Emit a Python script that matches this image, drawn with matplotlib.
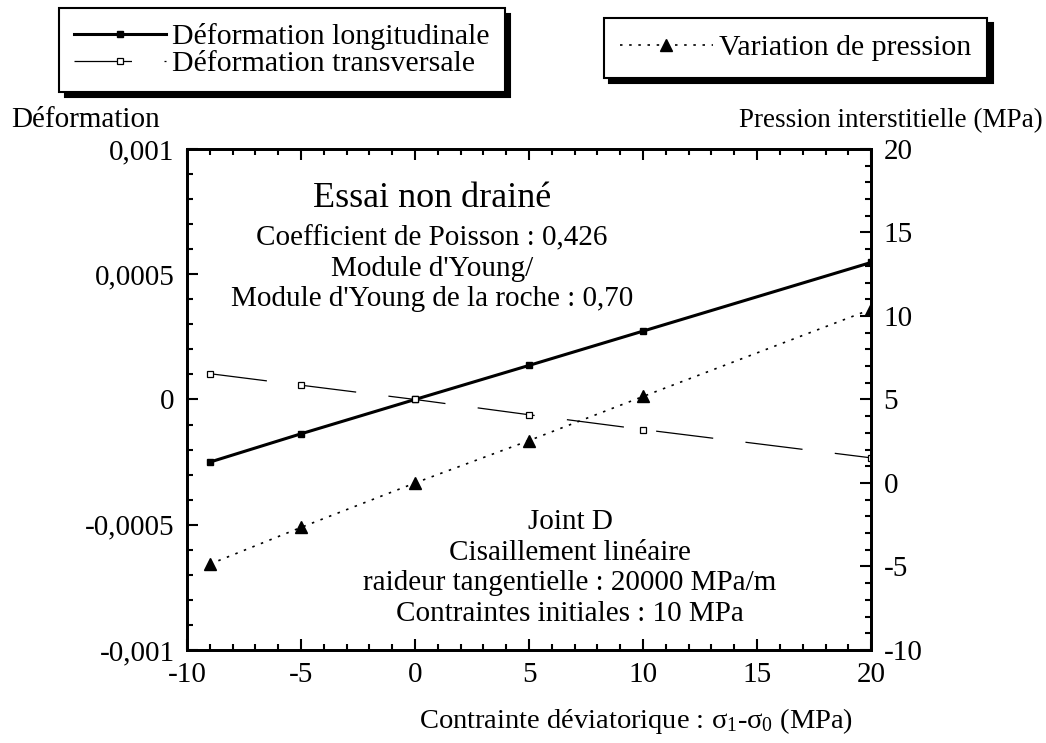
import matplotlib
matplotlib.use("Agg")
import matplotlib.pyplot as plt
from matplotlib.ticker import MultipleLocator, FuncFormatter

plt.rcParams['font.family'] = ['Liberation Serif', 'DejaVu Serif']
plt.rcParams['mathtext.fontset'] = 'custom'
plt.rcParams['mathtext.rm'] = 'Liberation Serif'
plt.rcParams['mathtext.it'] = 'Liberation Serif'
plt.rcParams['axes.unicode_minus'] = False

# contrainte deviatorique (MPa)
contrainte = [-9, -5, 0, 5, 10, 20]
# deformations
def_longi = [-0.00025, -0.000137, 0.0, 0.000136, 0.000273, 0.000547]
def_trans = [0.000103, 0.000057, 0.0, -0.000061, -0.00012, -0.000233]
# pression interstitielle (MPa)
pression = [-4.86, -2.66, 0.0, 2.54, 5.18, 10.4]

x_ticks = [-10, -5, 0, 5, 10, 15, 20]
y_ticks = [-0.001, -0.0005, 0, 0.0005, 0.001]
y2_ticks = [-10, -5, 0, 5, 10, 15, 20]

essai_lignes = ["Coefficient de Poisson : 0,426", "Module d'Young/",
                "Module d'Young de la roche : 0,70"]
joint_lignes = ["Joint D", "Cisaillement linéaire",
                "raideur tangentielle : 20000 MPa/m", "Contraintes initiales : 10 MPa"]


def virgule(v, pos):
    if abs(v) < 1e-12:
        return "0"
    s = ("%.4f" % v).rstrip("0")
    return s.replace(".", ",")


fig = plt.figure(figsize=(10.46, 7.43), dpi=100)
ax = fig.add_axes([0.1788, 0.1252, 0.654, 0.6743])
ax2 = ax.twinx()

ax.plot(contrainte, def_longi, color='black', lw=2.2, marker='s', ms=4,
        label='Déformation longitudinale')
ax.plot(contrainte, def_trans, color='black', lw=0.9, dashes=(46, 26), marker='s',
        ms=5, mfc='white', mew=0.9, label='Déformation transversale')
ax2.plot(contrainte, pression, color='black', lw=1.2, ls=(0, (1.5, 4)), marker='^',
         ms=9, label='Variation de pression')

ax.set_xlim(-10, 20)
ax.set_ylim(-0.001, 0.001)
ax2.set_ylim(-10, 20)
ax.set_xticks(x_ticks)
ax.set_yticks(y_ticks)
ax2.set_yticks(y2_ticks)
ax.xaxis.set_minor_locator(MultipleLocator(1))
ax.yaxis.set_minor_locator(MultipleLocator(0.0001))
ax2.yaxis.set_minor_locator(MultipleLocator(1))
ax.yaxis.set_major_formatter(FuncFormatter(virgule))

ax.tick_params(which='both', direction='in', top=True, labelsize=21, width=1.5, pad=9)
ax.tick_params(which='major', length=8)
ax.tick_params(which='minor', length=4)
ax2.tick_params(which='both', direction='in', labelsize=21, width=1.5, pad=9)
ax2.tick_params(which='major', length=8)
ax2.tick_params(which='minor', length=4)
for a in (ax, ax2):
    for sp in a.spines.values():
        sp.set_linewidth(2)

ax.set_xlabel(r'Contrainte déviatorique : $\sigma_1$-$\sigma_0$ (MPa)', fontsize=20.5)
ax.xaxis.set_label_coords(0.656, -0.112)
fig.text(0.011, 0.838, 'Déformation', fontsize=21, ha='left', va='center')
fig.text(0.997, 0.838, 'Pression interstitielle (MPa)', fontsize=19.5, ha='right',
         va='center')

ax.text(0.358, 0.902, 'Essai non drainé', transform=ax.transAxes, fontsize=26,
        ha='center', va='center')
for i, ligne in enumerate(essai_lignes):
    ax.text(0.358, 0.822 - i * 0.061, ligne, transform=ax.transAxes, fontsize=21,
            ha='center', va='center')
for i, ligne in enumerate(joint_lignes):
    ax.text(0.56, 0.255 - i * 0.061, ligne, transform=ax.transAxes, fontsize=21,
            ha='center', va='center')

shadow = {'color': 'black', 'alpha': 1, 'ox': 4, 'oy': -4}
h1, l1 = ax.get_legend_handles_labels()
leg1 = fig.legend(h1, l1, loc='upper left', bbox_to_anchor=(0.0564, 0.989),
                  borderaxespad=0, fontsize=21.5, frameon=True, fancybox=False,
                  shadow=shadow, edgecolor='black', handlelength=3.1,
                  handletextpad=0.2, borderpad=0.5, labelspacing=0.0)
leg1.get_frame().set_linewidth(1.5)
h2, l2 = ax2.get_legend_handles_labels()
leg2 = fig.legend(h2, l2, loc='upper left', bbox_to_anchor=(0.577, 0.976),
                  borderaxespad=0, fontsize=21.5, frameon=True, fancybox=False,
                  shadow=shadow, edgecolor='black', handlelength=3.1,
                  handletextpad=0.2, borderpad=0.55)
leg2.get_frame().set_linewidth(1.5)

fig.savefig('out.png', dpi=100)
